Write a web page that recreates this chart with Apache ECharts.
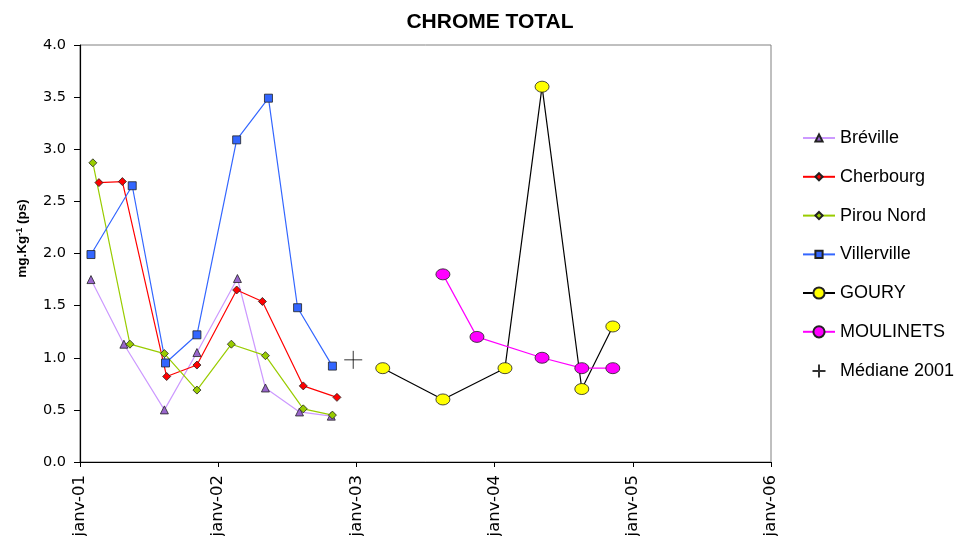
<!DOCTYPE html>
<html lang="fr">
<head>
<meta charset="utf-8" />
<title>CHROME TOTAL</title>
<script src="https://cdn.jsdelivr.net/npm/echarts@6/dist/echarts.min.js"></script>
</head>
<body style="margin:0;background:#fff">
<div id="container" style="width:962px;height:536px"></div>
<script>
var yearTicks = ['2001-01-01', '2002-01-01', '2003-01-01', '2004-01-01', '2005-01-01', '2006-01-01'];

var brevilleDates = ['2001-01-30', '2001-04-27', '2001-08-12', '2001-11-06', '2002-02-21', '2002-05-06', '2002-08-04', '2002-10-27'];
var brevilleValues = [1.75, 1.13, 0.50, 1.05, 1.76, 0.71, 0.48, 0.44];

var cherbourgDates = ['2001-02-20', '2001-04-23', '2001-08-18', '2001-11-06', '2002-02-19', '2002-04-28', '2002-08-14', '2002-11-11'];
var cherbourgValues = [2.68, 2.69, 0.82, 0.93, 1.65, 1.54, 0.73, 0.62];

var pirouDates = ['2001-02-04', '2001-05-13', '2001-08-12', '2001-11-06', '2002-02-05', '2002-05-06', '2002-08-14', '2002-10-30'];
var pirouValues = [2.87, 1.13, 1.04, 0.69, 1.13, 1.02, 0.51, 0.45];

var villervilleDates = ['2001-01-30', '2001-05-19', '2001-08-15', '2001-11-06', '2002-02-19', '2002-05-14', '2002-07-30', '2002-10-30'];
var villervilleValues = [1.99, 2.65, 0.95, 1.22, 3.09, 3.49, 1.48, 0.92];

var gouryDates = ['2003-03-12', '2003-08-18', '2004-01-29', '2004-05-06', '2004-08-19', '2004-11-09'];
var gouryValues = [0.9, 0.6, 0.9, 3.6, 0.7, 1.3];

var moulinetsDates = ['2003-08-18', '2003-11-16', '2004-05-06', '2004-08-19', '2004-11-09'];
var moulinetsValues = [1.8, 1.2, 1.0, 0.9, 0.9];

var medianeDates = ['2002-12-24'];
var medianeValues = [0.98];

function ts(d) { return Date.parse(d + 'T00:00:00Z'); }
function pairs(dates, values) {
  return dates.map(function (d, i) { return [ts(d), values[i]]; });
}

var chart = echarts.init(document.getElementById('container'), null, { renderer: 'canvas' });
var font = 'Liberation Sans, Arial, sans-serif';
// axis numbers in the original are drawn wider, DejaVu comes closer
var axisFont = 'DejaVu Sans, sans-serif';
var plus = 'path://M0,10L20,10M10,0L10,20';

function lineSeries(name, dates, values, lineColor, fill, symbol, size) {
  return {
    name: name,
    type: 'line',
    data: pairs(dates, values),
    symbol: symbol,
    symbolSize: size,
    lineStyle: { color: lineColor, width: 1.2 },
    itemStyle: { color: fill, borderColor: '#222', borderWidth: 0.8 },
    animation: false
  };
}

function legendBlock(names, left, top, itemHeight) {
  return {
    orient: 'vertical',
    left: left,
    top: top,
    itemGap: 20.8,
    itemWidth: 32,
    itemHeight: itemHeight,
    textStyle: { fontFamily: font, fontSize: 18, color: '#000' },
    data: names
  };
}

var yearStamps = yearTicks.map(ts);

var option = {
  backgroundColor: '#fff',
  textStyle: { fontFamily: font },
  title: {
    text: 'CHROME TOTAL',
    left: 485,
    top: 7,
    textAlign: 'center',
    textStyle: { fontFamily: font, fontSize: 21, fontWeight: 'bold', color: '#000' }
  },
  legend: [
    legendBlock(['Bréville', 'Cherbourg', 'Pirou Nord', 'Villerville'], 797, 124, 9),
    legendBlock(['GOURY', 'MOULINETS'], 797, 279, 14),
    legendBlock(['Médiane 2001'], 805, 357, 13)
  ],
  grid: {
    left: 80, right: 191, top: 45, bottom: 74,
    outerBoundsMode: 'none',
    show: true, borderColor: '#808080', borderWidth: 1
  },
  xAxis: {
    type: 'value',
    min: yearStamps[0],
    max: yearStamps[yearStamps.length - 1],
    splitLine: { show: false },
    axisLine: { lineStyle: { color: '#000', width: 1.2 } },
    axisTick: { show: true, customValues: yearStamps, length: 5, lineStyle: { color: '#000' } },
    axisLabel: {
      customValues: yearStamps,
      rotate: 90,
      margin: 13,
      fontFamily: axisFont,
      fontSize: 16.5,
      color: '#000',
      formatter: function (v) {
        var y = new Date(v).getUTCFullYear() % 100;
        return 'janv-' + (y < 10 ? '0' + y : y);
      }
    }
  },
  yAxis: {
    type: 'value',
    min: 0,
    max: 4,
    interval: 0.5,
    splitLine: { show: false },
    axisLine: { show: true, lineStyle: { color: '#000', width: 1.2 } },
    axisTick: { show: true, length: 6, lineStyle: { color: '#000' } },
    axisLabel: {
      fontFamily: axisFont, fontSize: 14.5, color: '#000', margin: 14,
      formatter: function (v) { return v.toFixed(1); }
    },
    name: '{b|mg.Kg}{s|-1}{b| (ps)}',
    nameLocation: 'middle',
    nameGap: 50,
    nameRotate: 90,
    nameTextStyle: {
      padding: [0, 0, 0, 30],
      rich: {
        b: { fontFamily: font, fontSize: 13.5, fontWeight: 'bold', color: '#000' },
        s: { fontFamily: font, fontSize: 9, fontWeight: 'bold', color: '#000', verticalAlign: 'top', padding: [0, 0, 6, 0] }
      }
    }
  },
  series: [
    lineSeries('Bréville', brevilleDates, brevilleValues, '#CC99FF', '#9966CC', 'triangle', 8),
    lineSeries('Cherbourg', cherbourgDates, cherbourgValues, '#FF0000', '#FF0000', 'diamond', 8),
    lineSeries('Pirou Nord', pirouDates, pirouValues, '#99CC00', '#99CC00', 'diamond', 8),
    lineSeries('Villerville', villervilleDates, villervilleValues, '#3366FF', '#3366FF', 'rect', 8),
    lineSeries('GOURY', gouryDates, gouryValues, '#000000', '#FFFF00', 'circle', [14, 11]),
    lineSeries('MOULINETS', moulinetsDates, moulinetsValues, '#FF00FF', '#FF00FF', 'circle', [14, 11]),
    {
      name: 'Médiane 2001',
      type: 'scatter',
      data: pairs(medianeDates, medianeValues),
      symbol: plus,
      symbolSize: 18,
      itemStyle: { color: 'none', borderColor: '#000', borderWidth: 1 },
      animation: false
    }
  ]
};

chart.setOption(option);
window.addEventListener('resize', chart.resize);
</script>
</body>
</html>
